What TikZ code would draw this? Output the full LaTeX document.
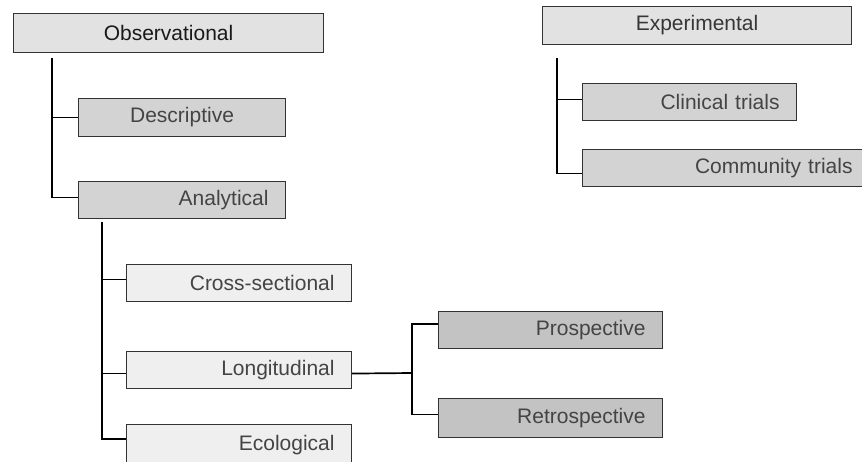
\documentclass[tikz,border=0pt]{standalone}
\usepackage{fontspec}
\setmainfont{Liberation Sans}
\definecolor{topfill}{HTML}{E2E2E2}
\definecolor{midfill}{HTML}{D3D3D3}
\definecolor{lightfill}{HTML}{EFEFEF}
\definecolor{darkfill}{HTML}{C3C3C3}
\definecolor{txtgray}{HTML}{444444}
\definecolor{edge}{HTML}{333333}
\tikzset{
  box/.style={draw=edge, line width=1.1pt, anchor=north west, inner ysep=0pt,
    font=\fontsize{21}{24}\selectfont, text=txtgray},
  cbox/.style={box, align=center, inner xsep=0pt},
  rbox/.style={box, align=right, inner xsep=17pt},
  conn/.style={line width=1.7pt, black}
}
\begin{document}
\begin{tikzpicture}[x=1pt,y=-1pt]
\useasboundingbox (0,0) rectangle (862,461);
\fill[white] (0,0) rectangle (862,461);
\clip (0,0) rectangle (862,461);
% top level
\node[cbox, fill=topfill, text=black!90, minimum width=310pt, text width=310pt, minimum height=39pt] (obs) at (13,13) {Observational};
\node[cbox, fill=topfill, text=txtgray!80!black, minimum width=309pt, text width=309pt, minimum height=38pt] (exp) at (542,6) {Experimental};
% observational children
\node[cbox, fill=midfill, text width=207pt, minimum height=38pt] (desc) at (78,98) {Descriptive};
\node[rbox, fill=midfill, text width=173pt, minimum height=37pt] (ana) at (78,181) {Analytical};
% experimental children
\node[rbox, fill=midfill, text width=180pt, minimum height=37pt] (clin) at (582,83) {Clinical trials};
\node[rbox, fill=midfill, text width=253pt, minimum height=37pt] (comm) at (582,149) {Community trials};
% analytical children
\node[rbox, fill=lightfill, text width=191pt, minimum height=37pt] (cross) at (126,264) {Cross-sectional};
\node[rbox, fill=lightfill, text width=191pt, minimum height=37pt] (long) at (126,351) {Longitudinal};
\node[rbox, fill=lightfill, text width=191pt, minimum height=41pt] (eco) at (126,424) {Ecological};
% longitudinal children
\node[rbox, fill=darkfill, text width=190pt, minimum height=37pt] (pro) at (438,311) {Prospective};
\node[rbox, fill=darkfill, text width=190pt, minimum height=39pt] (retro) at (438,398) {Retrospective};
% connector end points
\coordinate (anaIn) at ([yshift=2.5pt]ana.west);
\coordinate (descIn) at (desc.west);
\coordinate (crossIn) at ([yshift=3.5pt]cross.west);
\coordinate (longIn) at ([yshift=-3.5pt]long.west);
\coordinate (ecoIn) at ([yshift=6pt]eco.west);
\coordinate (longOut) at ([yshift=-3.5pt]long.east);
\coordinate (proIn) at ([yshift=6pt]pro.west);
\coordinate (retroIn) at ([yshift=3.5pt]retro.west);
\coordinate (clinIn) at ([yshift=2.5pt]clin.west);
\coordinate (commIn) at ([yshift=-5.5pt]comm.west);
% connectors
\coordinate (obsTop) at (52,58);
\draw[conn] (obsTop) |- (anaIn);
\draw[conn] (obsTop |- descIn) -- (descIn);
\coordinate (anaTop) at (102,222);
\draw[conn] (anaTop) |- (ecoIn);
\draw[conn] (anaTop |- crossIn) -- (crossIn);
\draw[conn] (anaTop |- longIn) -- (longIn);
\coordinate (lsplit) at (412,373);
\draw[conn] (longOut) -- (lsplit);
\draw[conn] (proIn) -| (lsplit) |- (retroIn);
\coordinate (expTop) at (557,58);
\draw[conn] (expTop) |- (commIn);
\draw[conn] (expTop |- clinIn) -- (clinIn);
\end{tikzpicture}
\end{document}
